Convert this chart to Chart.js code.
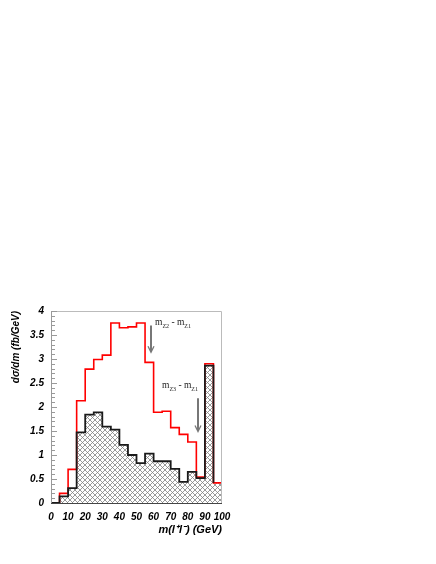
<!DOCTYPE html>
<html>
<head>
<meta charset="utf-8">
<script src="https://cdn.jsdelivr.net/npm/chart.js@4.4.1/dist/chart.umd.min.js"></script>
<style>
  html, body { margin: 0; padding: 0; background: #fff; }
  canvas { display: block; }
</style>
</head>
<body>
<canvas id="chart" width="436" height="564"></canvas>
<script>
// bin edges of the m(l+l-) histogram (GeV)
const binEdges = [0, 5, 10, 15, 20, 25, 30, 35, 40, 45, 50, 55, 60, 65, 70, 75, 80, 85, 90, 95, 100];
// red histogram (total)
const totalValues = [0, 0.20, 0.70, 2.13, 2.79, 2.99, 3.08, 3.75, 3.65, 3.67, 3.75, 2.93, 1.89, 1.91, 1.57, 1.43, 1.27, 0.54, 2.90, 0.42];
// hatched histogram
const hatchedValues = [0, 0.14, 0.31, 1.47, 1.84, 1.89, 1.59, 1.53, 1.21, 1.00, 0.83, 1.03, 0.87, 0.87, 0.71, 0.44, 0.65, 0.52, 2.86, 0.42];
const xTicks = [0, 10, 20, 30, 40, 50, 60, 70, 80, 90, 100];
const yTicks = [0, 0.5, 1, 1.5, 2, 2.5, 3, 3.5, 4];

// arrows marking the mass differences
const arrowX = [58.5, 86];
const arrowFrom = [3.70, 2.18];
const arrowTo = [3.14, 1.49];
const arrowSubs = [['Z2', 'Z1'], ['Z3', 'Z1']];

// step outline: one point at each bin's left edge, plus the right edge if asked
function steps(vals, closeRight) {
  const pts = vals.map((v, i) => ({ x: binEdges[i], y: v }));
  if (closeRight) pts.push({ x: binEdges[vals.length], y: vals[vals.length - 1] });
  return pts;
}

// cross hatch fill
function hatch() {
  const c = document.createElement('canvas');
  c.width = 5; c.height = 5;
  const g = c.getContext('2d');
  g.fillStyle = '#fff';
  g.fillRect(0, 0, 5, 5);
  g.strokeStyle = '#808080';
  g.lineWidth = 0.8;
  g.beginPath();
  g.moveTo(0, 0); g.lineTo(5, 5);
  g.moveTo(5, 0); g.lineTo(0, 5);
  g.stroke();
  return g.createPattern(c, 'repeat');
}

const tickFont = { family: 'Liberation Sans, Arial, sans-serif', size: 10, weight: 'bold', style: 'italic' };
const titleFont = { family: 'Liberation Sans, Arial, sans-serif', size: 11, weight: 'bold', style: 'italic' };

const frame = {
  id: 'frame',
  afterDatasetsDraw(chart) {
    const { ctx, chartArea: a, scales: { y } } = chart;
    ctx.save();
    ctx.lineWidth = 1;
    ctx.strokeStyle = '#bbbbbb';
    ctx.beginPath();
    ctx.moveTo(a.left, a.top + 0.5); ctx.lineTo(a.right - 0.5, a.top + 0.5);
    ctx.lineTo(a.right - 0.5, a.bottom);
    ctx.stroke();
    ctx.strokeStyle = '#999';
    ctx.beginPath();
    ctx.moveTo(a.left + 0.5, a.top); ctx.lineTo(a.left + 0.5, a.bottom);
    for (let k = 0; k <= 40; k++) {
      const py = Math.round(y.getPixelForValue(k / 10)) + 0.5;
      ctx.moveTo(a.left, py);
      ctx.lineTo(a.left + (k % 5 === 0 ? 6 : 4), py);
    }
    ctx.stroke();
    ctx.strokeStyle = '#444';
    ctx.beginPath();
    ctx.moveTo(a.left, a.bottom + 0.5); ctx.lineTo(a.right, a.bottom + 0.5);
    ctx.stroke();
    ctx.restore();
  }
};

const arrows = {
  id: 'arrows',
  afterDatasetsDraw(chart) {
    const { ctx, scales: { x, y } } = chart;
    ctx.save();
    arrowX.forEach((ax, i) => {
      const px = Math.round(x.getPixelForValue(ax));
      const y0 = y.getPixelForValue(arrowFrom[i]);
      const y1 = y.getPixelForValue(arrowTo[i]);
      ctx.strokeStyle = '#777';
      ctx.lineWidth = 2;
      ctx.beginPath();
      ctx.moveTo(px, y0); ctx.lineTo(px, y1 - 1);
      ctx.stroke();
      ctx.lineWidth = 1.3;
      ctx.beginPath();
      ctx.moveTo(px - 3, y1 - 6); ctx.lineTo(px, y1); ctx.lineTo(px + 3, y1 - 6);
      ctx.stroke();

      // label "m_a - m_b"
      let tx = i === 0 ? px + 4 : px - 36;
      const ty = y0 + (i === 0 ? 0 : -10);
      ctx.fillStyle = '#222';
      ctx.textBaseline = 'alphabetic';
      const parts = [['m', false], [arrowSubs[i][0], true], [' - m', false], [arrowSubs[i][1], true]];
      parts.forEach(([t, sub]) => {
        ctx.font = (sub ? '6px' : '9.5px') + ' "Liberation Serif", serif';
        ctx.fillText(t, tx, ty + (sub ? 3 : 0));
        tx += ctx.measureText(t).width;
      });
    });
    ctx.restore();
  }
};

new Chart(document.getElementById('chart'), {
  type: 'line',
  data: {
    datasets: [
      {
        data: steps(hatchedValues, false),
        stepped: true,
        borderColor: '#1a1a1a',
        borderWidth: 1.8,
        pointRadius: 0,
        fill: false
      },
      {
        data: steps(totalValues, true),
        stepped: true,
        borderColor: '#ff0000',
        borderWidth: 1.6,
        pointRadius: 0,
        fill: false
      },
      {
        data: steps(hatchedValues, true),
        stepped: true,
        borderWidth: 0,
        borderColor: 'rgba(0,0,0,0)',
        backgroundColor: hatch(),
        pointRadius: 0,
        fill: 'origin'
      }
    ]
  },
  options: {
    responsive: false,
    animation: false,
    devicePixelRatio: 1,
    layout: { padding: { left: 0, top: 311, right: 214, bottom: 21 } },
    plugins: { legend: { display: false }, tooltip: { enabled: false } },
    scales: {
      x: {
        type: 'linear',
        min: 0,
        max: 100,
        afterFit: s => { s.height = 40; },
        afterBuildTicks: s => { s.ticks = xTicks.map(v => ({ value: v })); },
        grid: { display: false, drawTicks: false },
        border: { display: false },
        ticks: { color: '#000', font: tickFont, padding: 8, maxRotation: 0, autoSkip: false, callback: v => String(v) },
        title: {
          display: true,
          text: 'm(l\u207Al\u207B) (GeV)',
          align: 'end',
          color: '#000',
          font: titleFont,
          padding: { top: 0, bottom: 6 }
        }
      },
      y: {
        min: 0,
        max: 4,
        afterFit: s => { s.width = 51; },
        afterBuildTicks: s => { s.ticks = yTicks.map(v => ({ value: v })); },
        grid: { display: false, drawTicks: false },
        border: { display: false },
        ticks: { color: '#000', font: tickFont, padding: 7, autoSkip: false, callback: v => String(v) },
        title: {
          display: true,
          text: 'd\u03C3/dm (fb/GeV)',
          align: 'end',
          color: '#000',
          font: { ...titleFont, size: 10 },
          padding: { top: 10, bottom: 0 }
        }
      }
    }
  },
  plugins: [frame, arrows]
});
</script>
</body>
</html>
